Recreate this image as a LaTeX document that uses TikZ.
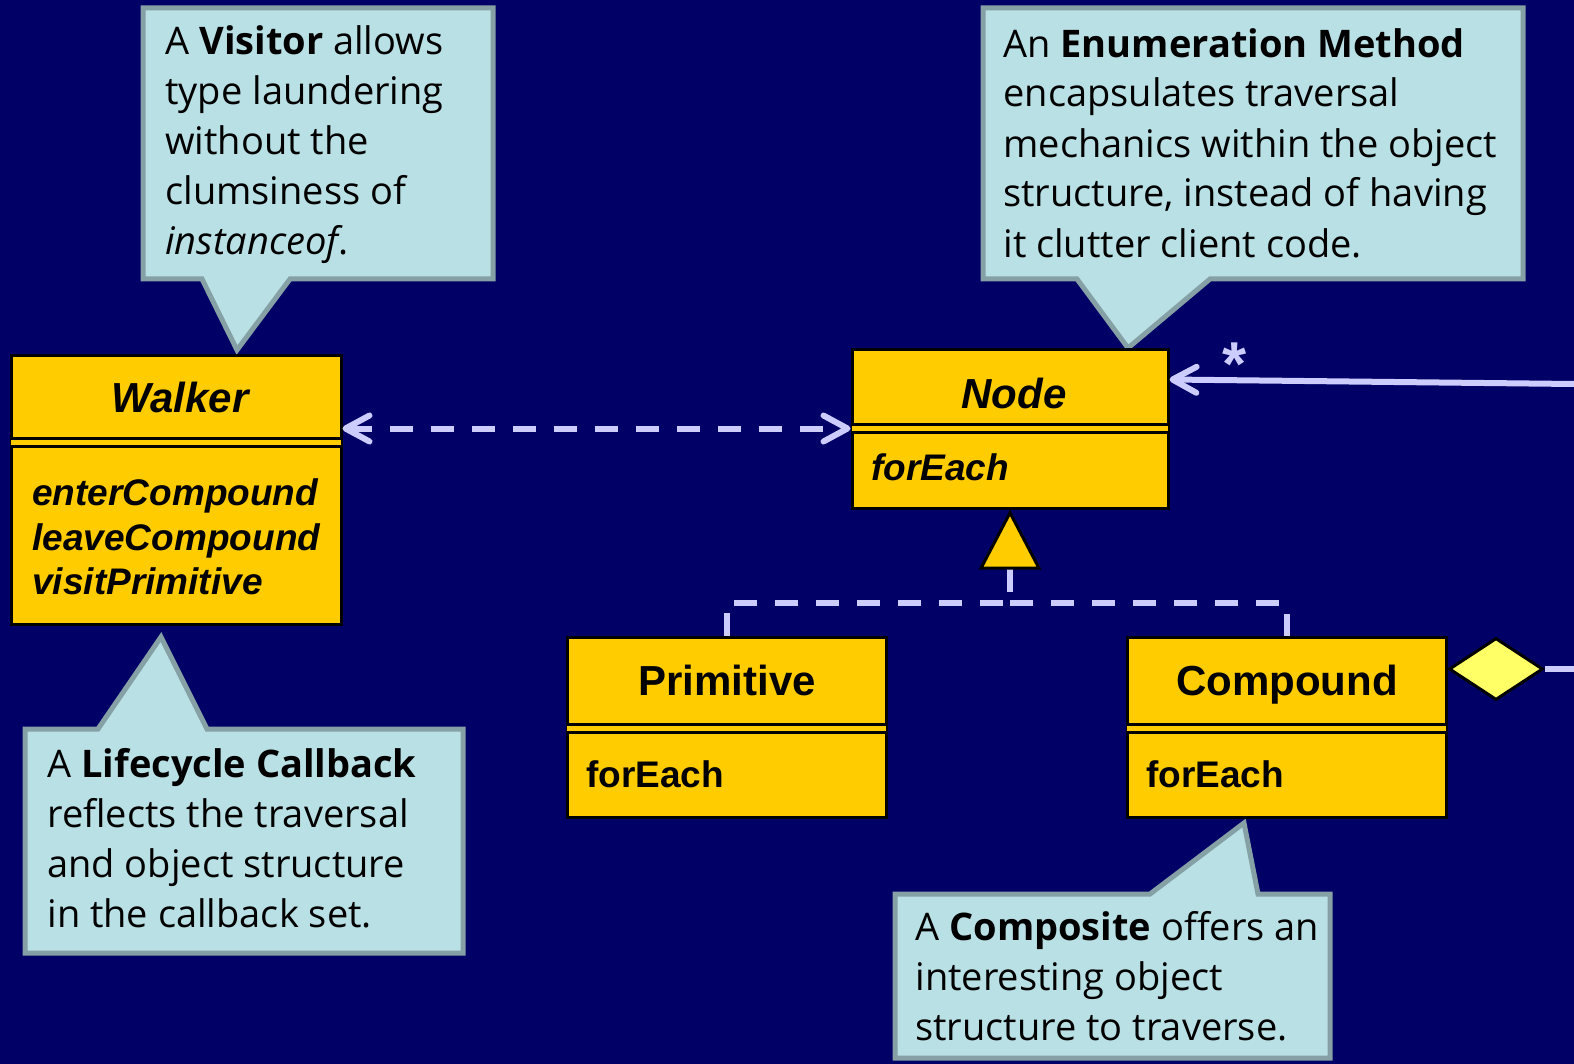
\documentclass[tikz,border=0pt]{standalone}
\usepackage{fontspec}
\setmainfont{Liberation Sans}
\newfontfamily\notefont{Open Sans}
\usetikzlibrary{arrows.meta,shapes.geometric}

\definecolor{slidebg}{HTML}{000066}
\definecolor{umlyellow}{HTML}{FFCC00}
\definecolor{diamondyellow}{HTML}{FFFF66}
\definecolor{linklilac}{HTML}{CCCCFF}
\definecolor{notefill}{HTML}{B9E0E4}
\definecolor{noteedge}{HTML}{86A1A6}

\begin{document}
\begin{tikzpicture}[x=0.5pt,y=-0.5pt,
    >={Straight Barb[length=12pt,width=13pt,round]},
    class box/.style={draw=black,fill=umlyellow,line width=1.5pt,rectangle,
        inner sep=0pt},
    compartment rule/.style={draw=black,line width=1.5pt,double=umlyellow,
        double distance=2.5pt},
    class title/.style={font=\fontsize{21}{25}\selectfont\bfseries,
        inner sep=0pt,anchor=base},
    abstract title/.style={class title,
        font=\fontsize{21}{25}\selectfont\bfseries\itshape},
    class op/.style={font=\fontsize{18.5}{22.5}\selectfont\bfseries,
        inner sep=0pt,anchor=base west},
    abstract op/.style={class op,
        font=\fontsize{18.5}{22.5}\selectfont\bfseries\itshape},
    note/.style={fill=notefill,draw=noteedge,line width=2.5pt,line join=miter},
    note text/.style={font=\notefont\fontsize{19}{25}\selectfont,align=left,
        inner sep=0pt,anchor=base west},
    link/.style={draw=linklilac,line width=3pt},
    link dashed/.style={link,dash pattern=on 11.5pt off 9pt},
    whole part/.style={diamond,aspect=1.5,draw=black,fill=diamondyellow,
        line width=1.5pt,minimum width=47pt,minimum height=31pt,inner sep=0pt}
]
    \useasboundingbox (0,0) rectangle (1574,1064);
    \fill[slidebg] (0,0) rectangle (1574,1064);

    \draw[note] (143,8) -- (493,8) -- (493,279) -- (290,279) -- (237,350)
        -- (202,279) -- (143,279) -- cycle;
    \draw[note] (983,8) -- (1523,8) -- (1523,279) -- (1210,279) -- (1128,348)
        -- (1077,279) -- (983,279) -- cycle;
    \draw[note] (25,729) -- (98,729) -- (161,637) -- (207,729) -- (463,729)
        -- (463,953) -- (25,953) -- cycle;
    \draw[note] (895,894) -- (1150,894) -- (1244,823) -- (1258,894)
        -- (1330,894) -- (1330,1058) -- (895,1058) -- cycle;

    \node[note text] (visitor-text) at (165,255)
        {A \textbf{Visitor} allows\\type laundering\\without the\\
         clumsiness of\\\textit{instanceof}.};
    \node[note text] (enum-text) at (1003,257)
        {An \textbf{Enumeration Method}\\encapsulates traversal\\
         mechanics within the object\\structure, instead of having\\
         it clutter client code.};
    \node[note text] (lifecycle-text) at (47,927)
        {A \textbf{Lifecycle Callback}\\reflects the traversal\\
         and object structure\\in the callback set.};
    \node[note text] (composite-text) at (915,1040)
        {A \textbf{Composite} offers an\\interesting object\\
         structure to traverse.};

    \node[class box,minimum width=165pt,minimum height=134.5pt] (walker)
        at (176,489.5) {};
    \node[class box,minimum width=158pt,minimum height=79.5pt] (nodeclass)
        at (1010,428.5) {};
    \node[class box,minimum width=159.5pt,minimum height=90pt] (primitive)
        at (726.5,727) {};
    \node[class box,minimum width=159.5pt,minimum height=90pt] (compound)
        at (1286.5,727) {};
    \foreach \c/\d in {walker/44.5,nodeclass/40.25,primitive/46.25,compound/46.25}
        \draw[compartment rule] ([yshift=-\d pt,xshift=0.75pt]\c.north west)
            -- ([yshift=-\d pt,xshift=-0.75pt]\c.north east);

    \node[abstract title] (walker-title) at (180,412) {Walker};
    \foreach \op/\y in {enterCompound/505,leaveCompound/550,visitPrimitive/594}
        \node[abstract op] (walker-\op) at (32,\y) {\op};
    \node[abstract title] (nodeclass-title) at (1014,408) {Node};
    \node[abstract op] (nodeclass-op) at (871,480) {forEach};
    \node[class title] (primitive-title) at (727,695) {Primitive};
    \node[class op] (primitive-op) at (586,787) {forEach};
    \node[class title] (compound-title) at (1287,695) {Compound};
    \node[class op] (compound-op) at (1146,787) {forEach};

    \draw[link dashed,<->] (walker.east |- nodeclass.west) -- (nodeclass.west);

    \coordinate (gen-bus) at (1010,603);
    \draw[link dashed,{Triangle[color=black,fill=umlyellow,line width=1.5pt,
        length=30pt,width=31pt]}-] (nodeclass.south) -- (gen-bus)
        -| (primitive.north);
    \draw[link dashed] (gen-bus) -| (compound.north);

    \node[whole part] (whole) at (1496,669) {};
    \coordinate (edge-east) at (1574,669);
    \draw[link] (whole.east) -- (edge-east);

    \coordinate (edge-north) at (1574,384);
    \draw[link,->] (edge-north) -- ([yshift=24.5pt]nodeclass.east);
    \node[class title,font=\fontsize{31}{34}\selectfont\bfseries,
        text=linklilac] (many) at (1235,386) {*};

\end{tikzpicture}
\end{document}
